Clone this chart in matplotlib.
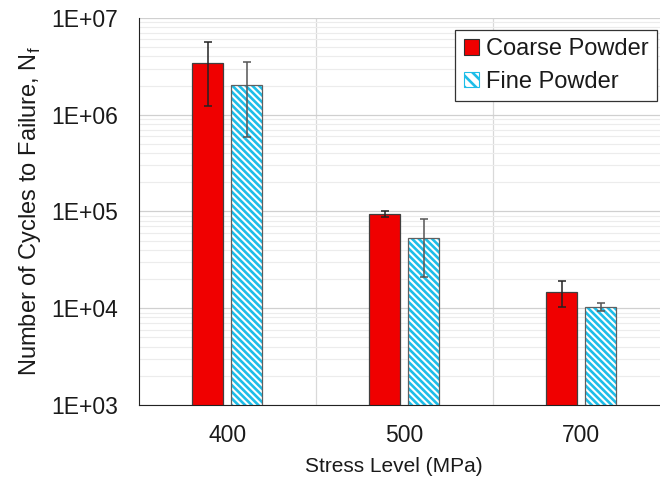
import matplotlib.pyplot as plt
import numpy as np
from matplotlib.patches import Patch
from matplotlib.ticker import LogLocator, FixedLocator

plt.rcParams['font.family'] = ['Liberation Sans', 'DejaVu Sans']
plt.rcParams['hatch.linewidth'] = 1.9

stress = ['400', '500', '700']
coarse = [3.44e6, 9.5e4, 1.46e4]
coarse_lo = [1.24e6, 8.7e4, 1.02e4]
coarse_hi = [5.66e6, 1.01e5, 1.9e4]
fine = [2.04e6, 5.3e4, 1.02e4]
fine_lo = [5.9e5, 2.1e4, 9.3e3]
fine_hi = [3.5e6, 8.4e4, 1.13e4]

x = np.arange(len(stress))
w = 0.175
off = 0.11
cyan = '#1ebde8'
hatch = '\\' * 5

fig = plt.figure(figsize=(6.6, 4.86), dpi=100)
# plot area runs past the right edge of the picture, as in the original
ax = fig.add_axes([0.21, 0.167, 0.8045, 0.796])

ax.set_yscale('log')
ax.set_ylim(1e3, 1e7)
ax.set_xlim(-0.5, 2.5)

# grid
ax.yaxis.set_minor_locator(LogLocator(base=10, subs=np.arange(2, 10)))
ax.grid(True, which='major', axis='y', color='#d0d0d0', lw=0.9)
ax.grid(True, which='minor', axis='y', color='#ececec', lw=0.8)
ax.xaxis.set_minor_locator(FixedLocator([0.5, 1.5]))
ax.grid(True, which='minor', axis='x', color='#d9d9d9', lw=0.9)
ax.set_axisbelow(True)

# coarse
ax.bar(x - off, coarse, w, color='#f00000', edgecolor='#404040', lw=0.9, zorder=2)
ax.errorbar(x - off, coarse,
            yerr=[np.array(coarse) - np.array(coarse_lo), np.array(coarse_hi) - np.array(coarse)],
            fmt='none', ecolor='#222222', elinewidth=1.1, capsize=3, capthick=1.1, zorder=4)

# fine (hatched)
ax.bar(x + off, fine, w, color='white', edgecolor=cyan, hatch=hatch, lw=0, zorder=2)
ax.bar(x + off, fine, w, color='none', edgecolor='#606060', lw=0.9, zorder=3)
ax.errorbar(x + off, fine,
            yerr=[np.array(fine) - np.array(fine_lo), np.array(fine_hi) - np.array(fine)],
            fmt='none', ecolor='#555555', elinewidth=1.1, capsize=3, capthick=1.1, zorder=4)

ax.set_xticks(x)
ax.set_xticklabels(stress)
ax.set_yticks([1e3, 1e4, 1e5, 1e6, 1e7])
ax.set_yticklabels(['1E+03', '1E+04', '1E+05', '1E+06', '1E+07'])
ax.tick_params(axis='both', which='both', length=0, labelsize=16.5, colors='#1a1a1a')
ax.tick_params(axis='y', pad=15)
ax.tick_params(axis='x', pad=14)

for s in ['top', 'right']:
    ax.spines[s].set_visible(False)
ax.spines['left'].set_color('#222222')
ax.spines['bottom'].set_color('#222222')

ax.set_xlabel('Stress Level (MPa)', fontsize=15, color='#1a1a1a')
ax.xaxis.set_label_coords(0.481, -0.135)
ax.set_ylabel('Number of Cycles to Failure, N$_\\mathregular{f}$', fontsize=17,
              color='#1a1a1a', labelpad=6)

handles = [Patch(facecolor='#f00000', edgecolor='#303030', lw=0.8, label='Coarse Powder'),
           Patch(facecolor='white', edgecolor=cyan, hatch='\\' * 3, lw=0.8, label='Fine Powder')]
leg = ax.legend(handles=handles, loc='upper right', fontsize=17, fancybox=False,
                edgecolor='#333333', framealpha=1, handlelength=0.65, handleheight=0.65,
                handletextpad=0.3, borderpad=0.35, labelspacing=0.45,
                bbox_to_anchor=(0.976, 0.969), borderaxespad=0)
leg.get_frame().set_linewidth(0.9)
for t in leg.get_texts():
    t.set_color('#1a1a1a')

fig.savefig('out.png', dpi=100)
